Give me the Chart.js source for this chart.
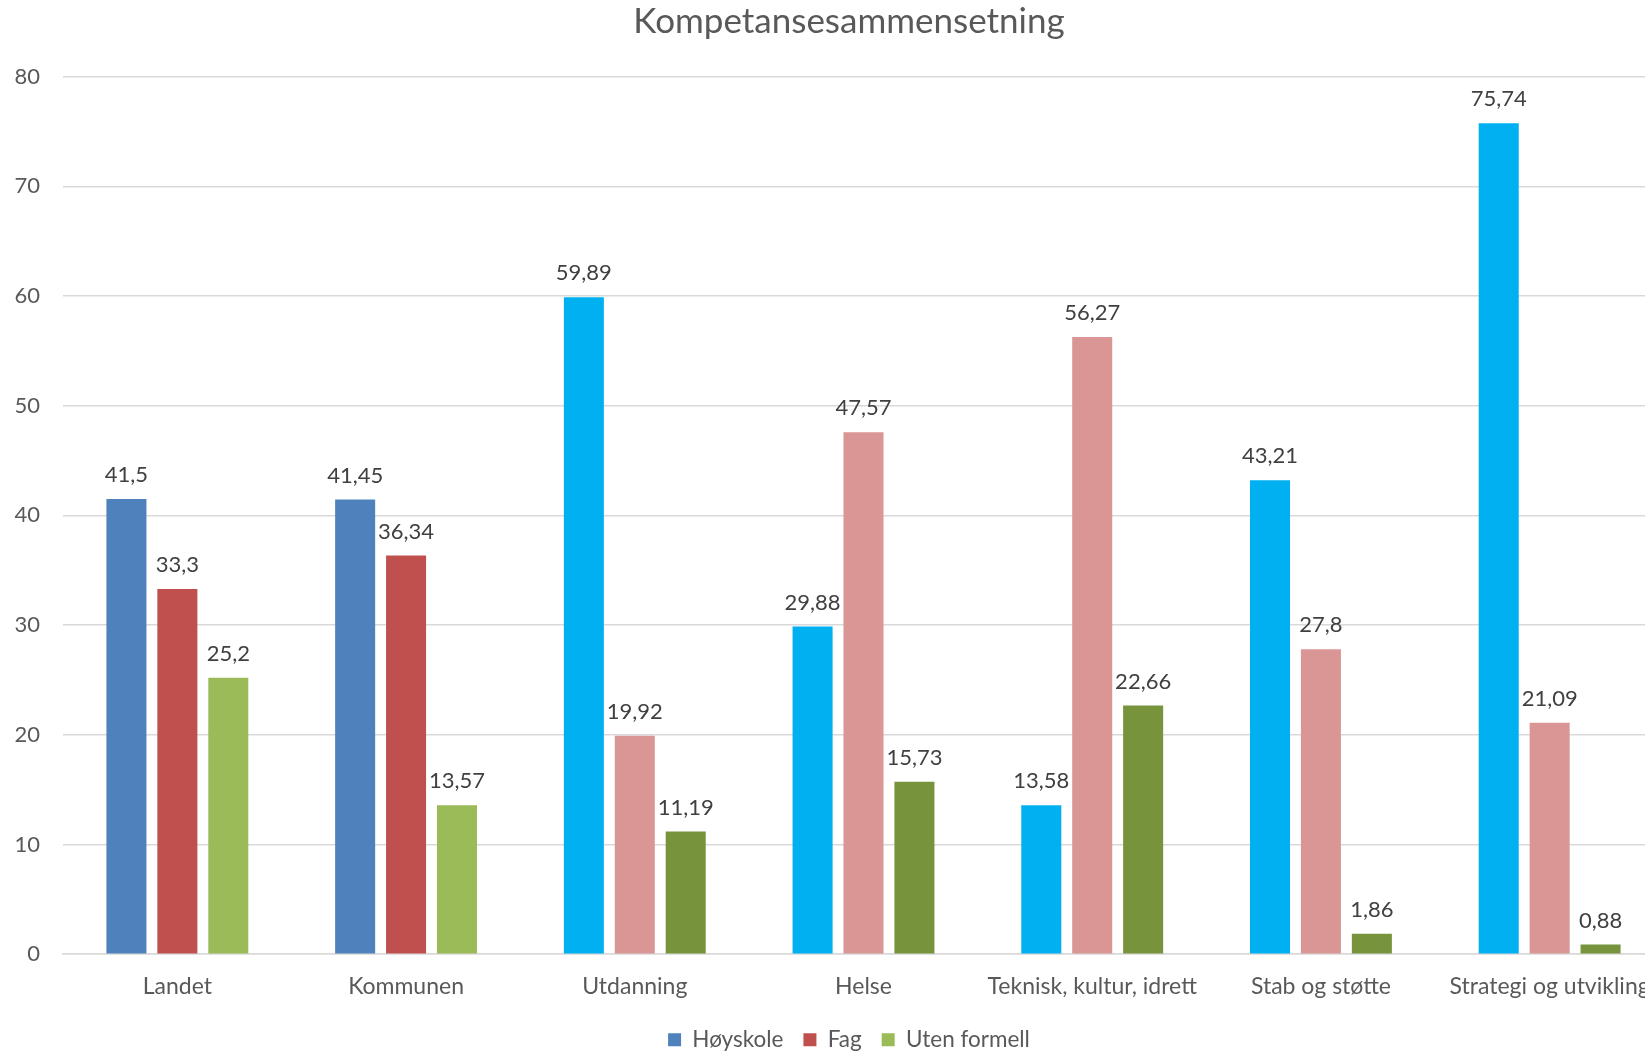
<!DOCTYPE html>
<html>
<head>
<meta charset="utf-8">
<script src="https://cdn.jsdelivr.net/npm/chart.js@4"></script>
<style>
  html, body { margin: 0; padding: 0; background: #fff; overflow: hidden; }
  #wrap { width: 1698px; height: 1052px; }
</style>
</head>
<body>
<div id="wrap"><canvas id="barChart" width="1698" height="1052"></canvas></div>
<script>
const categories = ['Landet', 'Kommunen', 'Utdanning', 'Helse', 'Teknisk, kultur, idrett', 'Stab og støtte', 'Strategi og utvikling'];
const hoyskole = [41.5, 41.45, 59.89, 29.88, 13.58, 43.21, 75.74];
const fag = [33.3, 36.34, 19.92, 47.57, 56.27, 27.8, 21.09];
const utenFormell = [25.2, 13.57, 11.19, 15.73, 22.66, 1.86, 0.88];
const yTicks = [0, 10, 20, 30, 40, 50, 60, 70, 80];

// first two groups use the standard palette, the sectors a lighter one
const hoyskoleColors = ['#4F81BD', '#4F81BD', '#00B0F0', '#00B0F0', '#00B0F0', '#00B0F0', '#00B0F0'];
const fagColors = ['#C0504D', '#C0504D', '#D99694', '#D99694', '#D99694', '#D99694', '#D99694'];
const utenColors = ['#9BBB59', '#9BBB59', '#77933C', '#77933C', '#77933C', '#77933C', '#77933C'];

const FONT = 'Lato, "Open Sans", sans-serif';

// values above each bar, with decimal comma
const valueLabels = {
  id: 'valueLabels',
  afterDatasetsDraw(chart) {
    const ctx = chart.ctx;
    ctx.save();
    ctx.font = '22px ' + FONT;
    ctx.fillStyle = '#404040';
    ctx.textAlign = 'center';
    ctx.textBaseline = 'bottom';
    chart.data.datasets.forEach((ds, i) => {
      chart.getDatasetMeta(i).data.forEach((bar, j) => {
        const txt = String(ds.data[j]).replace('.', ',');
        ctx.fillText(txt, bar.x, bar.y - 13);
      });
    });
    ctx.restore();
  }
};

const canvas = document.getElementById('barChart');
new Chart(canvas.getContext('2d'), {
  type: 'bar',
  data: {
    labels: categories,
    datasets: [
      { label: 'Høyskole', data: hoyskole, backgroundColor: hoyskoleColors },
      { label: 'Fag', data: fag, backgroundColor: fagColors },
      { label: 'Uten formell', data: utenFormell, backgroundColor: utenColors },
    ],
  },
  options: {
    responsive: false,
    animation: false,
    devicePixelRatio: 1,
    categoryPercentage: 0.668,
    barPercentage: 0.786,
    layout: { padding: { left: 0, right: 0, top: 0, bottom: -9 } },
    plugins: {
      title: {
        display: true,
        text: 'Kompetansesammensetning',
        color: '#595959',
        font: { family: FONT, size: 35, weight: 'normal' },
        padding: { top: 1, bottom: 33.6 },
      },
      legend: {
        position: 'bottom',
        labels: {
          color: '#595959',
          font: { family: FONT, size: 22.5 },
          boxWidth: 13,
          boxHeight: 13,
          padding: 20,
          generateLabels(chart) {
            const firsts = [hoyskoleColors[0], fagColors[0], utenColors[0]];
            return chart.data.datasets.map((ds, i) => ({
              text: ds.label,
              fillStyle: firsts[i],
              strokeStyle: firsts[i],
              lineWidth: 0,
              fontColor: '#595959',
              datasetIndex: i,
            }));
          },
        },
      },
      tooltip: { enabled: false },
    },
    scales: {
      x: {
        afterFit(axis) { axis.height = 54.3; },
        grid: { display: false },
        border: { color: '#D9D9D9', width: 1.5 },
        ticks: {
          color: '#595959',
          font: { family: FONT, size: 23 },
          padding: 11,
          maxRotation: 0,
          autoSkip: false,
        },
      },
      y: {
        min: 0,
        max: 80,
        afterFit(axis) { axis.width = 63; },
        afterBuildTicks(axis) { axis.ticks = yTicks.map(v => ({ value: v })); },
        grid: { color: '#D9D9D9', lineWidth: 1.5, drawTicks: false },
        border: { display: false },
        ticks: {
          color: '#595959',
          font: { family: FONT, size: 22 },
          padding: 23,
        },
      },
      // empty strip on the right so the plot runs past the page edge
      edge: {
        position: 'right',
        afterFit(axis) { axis.width = 34; },
        grid: { display: false },
        border: { display: false },
        ticks: { display: false },
      },
    },
  },
  plugins: [valueLabels],
});
</script>
</body>
</html>
